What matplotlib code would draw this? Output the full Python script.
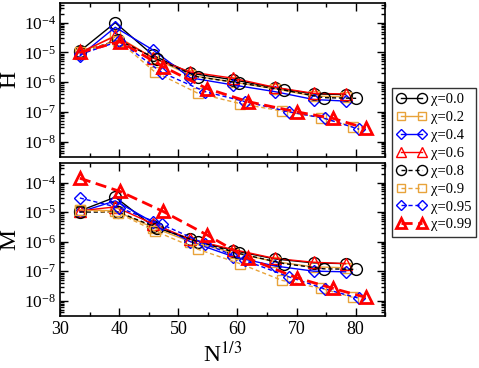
import matplotlib
matplotlib.use("Agg")
import matplotlib.pyplot as plt
from matplotlib.ticker import LogLocator, NullFormatter, LogFormatterMathtext

plt.rcParams['font.family'] = ['Liberation Serif', 'DejaVu Serif']
plt.rcParams['mathtext.fontset'] = 'stix'
plt.rcParams['axes.unicode_minus'] = False

# N^(1/3) positions for each chi
x_low = [33.3, 39.3, 45.7, 52.0, 59.3, 66.3, 72.9, 78.3]   # chi = 0.0 .. 0.6
x_08 = [33.3, 39.8, 46.3, 53.3, 60.2, 67.9, 74.6, 80.1]
x_09 = [33.3, 39.8, 46.0, 53.3, 60.4, 67.5, 74.2, 79.5]
x_095 = [33.3, 40.0, 47.2, 54.5, 61.3, 68.8, 74.8, 80.6]
x_099 = [33.3, 40.1, 47.4, 54.8, 61.8, 70.0, 76.2, 81.7]

chi_labels = ["0.0", "0.2", "0.4", "0.6", "0.8", "0.9", "0.95", "0.99"]

# H (top panel)
H_00 = [1.1e-5, 1.0e-4, 8.0e-6, 2.0e-6, 1.2e-6, 6.5e-7, 4.0e-7, 3.8e-7]
H_02 = [9.0e-6, 3.8e-5, 6.5e-6, 1.7e-6, 1.0e-6, 6.0e-7, 3.4e-7, 3.2e-7]
H_04 = [7.5e-6, 7.0e-5, 1.2e-5, 1.4e-6, 8.0e-7, 4.8e-7, 2.6e-7, 2.3e-7]
H_06 = [1.0e-5, 3.5e-5, 6.5e-6, 2.2e-6, 1.35e-6, 6.7e-7, 4.2e-7, 4.0e-7]
H_08 = [1.0e-5, 2.6e-5, 6.0e-6, 1.5e-6, 9.5e-7, 5.4e-7, 3.0e-7, 2.85e-7]
H_09 = [1.0e-5, 2.5e-5, 2.2e-6, 4.2e-7, 1.9e-7, 1.07e-7, 6.3e-8, 3.2e-8]
H_095 = [8.5e-6, 2.4e-5, 2.1e-6, 4.8e-7, 2.2e-7, 1.0e-7, 6.0e-8, 2.6e-8]
H_099 = [1.0e-5, 2.3e-5, 3.3e-6, 6.1e-7, 2.2e-7, 1.0e-7, 6.0e-8, 2.8e-8]

# M (bottom panel)
M_00 = [1.1e-5, 3.2e-5, 3.3e-6, 1.2e-6, 5.0e-7, 2.6e-7, 1.9e-7, 1.8e-7]
M_02 = [1.2e-5, 1.1e-5, 3.0e-6, 1.0e-6, 4.2e-7, 2.1e-7, 1.4e-7, 1.3e-7]
M_04 = [1.0e-5, 2.4e-5, 4.5e-6, 1.0e-6, 3.1e-7, 1.5e-7, 1.0e-7, 9.5e-8]
M_06 = [1.1e-5, 1.5e-5, 4.0e-6, 1.2e-6, 5.4e-7, 2.7e-7, 2.0e-7, 1.8e-7]
M_08 = [1.0e-5, 1.0e-5, 3.0e-6, 1.0e-6, 4.0e-7, 1.8e-7, 1.2e-7, 1.15e-7]
M_09 = [1.2e-5, 9.3e-6, 2.3e-6, 5.5e-7, 1.8e-7, 4.9e-8, 2.6e-8, 1.3e-8]
M_095 = [3.0e-5, 1.4e-5, 3.8e-6, 8.5e-7, 2.3e-7, 6.3e-8, 2.5e-8, 1.2e-8]
M_099 = [1.4e-4, 5.0e-5, 1.05e-5, 1.7e-6, 2.7e-7, 6.0e-8, 2.6e-8, 1.3e-8]

xs = [x_low, x_low, x_low, x_low, x_08, x_09, x_095, x_099]
Hs = [H_00, H_02, H_04, H_06, H_08, H_09, H_095, H_099]
Ms = [M_00, M_02, M_04, M_06, M_08, M_09, M_095, M_099]

orange = '#E8A33A'
dash = (0, (3, 2))
styles = [
    dict(color='k', marker='o', ls='-', lw=1.0, ms=8.5, mew=1.0),
    dict(color=orange, marker='s', ls='-', lw=1.0, ms=7.5, mew=1.0),
    dict(color='b', marker='D', ls='-', lw=1.0, ms=6.5, mew=1.0),
    dict(color='r', marker='^', ls='-', lw=1.0, ms=9, mew=1.0),
    dict(color='k', marker='o', ls=dash, lw=1.0, ms=8.5, mew=1.0),
    dict(color=orange, marker='s', ls=dash, lw=1.0, ms=7.5, mew=1.0),
    dict(color='b', marker='D', ls=dash, lw=1.0, ms=6.5, mew=1.0),
    dict(color='r', marker='^', ls=(0, (4, 2)), lw=2.0, ms=9, mew=2.0),
]

fig = plt.figure(figsize=(4.79, 3.68), dpi=100)
ax1 = fig.add_axes([0.126, 0.5742, 0.678, 0.4185])
ax2 = fig.add_axes([0.126, 0.1421, 0.678, 0.4158])

for ax, ys in ((ax1, Hs), (ax2, Ms)):
    for x, y, st, lab in zip(xs, ys, styles, chi_labels):
        ax.plot(x, y, color=st['color'], marker=st['marker'], ls=st['ls'],
                lw=st['lw'], ms=st['ms'], mew=st['mew'], mfc='none',
                label="χ=" + lab)
    ax.set_yscale('log')
    ax.set_xlim(30, 85)
    ax.set_ylim(3.1e-9, 4.7e-4)
    ax.set_xticks([30, 40, 50, 60, 70, 80])
    ax.set_xticks([35, 45, 55, 65, 75, 85], minor=True)
    ax.yaxis.set_major_locator(LogLocator(base=10, numticks=20))
    ax.yaxis.set_minor_locator(LogLocator(base=10, subs=range(2, 10), numticks=20))
    ax.yaxis.set_major_formatter(LogFormatterMathtext())
    ax.yaxis.set_minor_formatter(NullFormatter())
    ax.tick_params(which='both', direction='in', top=True, right=True,
                   labelsize=13, width=1.0)
    ax.tick_params(axis='y', labelsize=12.5, pad=3)
    ax.tick_params(which='major', length=6)
    ax.tick_params(which='minor', length=3)
    for s in ax.spines.values():
        s.set_linewidth(1.2)

ax1.set_xticklabels([])
ax1.set_ylabel("H", fontsize=17)
ax2.set_ylabel("M", fontsize=17)
ax1.yaxis.set_label_coords(-0.122, 0.5)
ax2.yaxis.set_label_coords(-0.122, 0.5)
ax2.set_xlabel("N$^{1/3}$", fontsize=17, labelpad=3)

leg = ax1.legend(loc='upper left', bbox_to_anchor=(1.021, 0.446), numpoints=2,
                 handlelength=2.0, fontsize=10.5, frameon=True, fancybox=False,
                 edgecolor='k', borderpad=0.35, labelspacing=0.32,
                 handletextpad=0.3, borderaxespad=0, markerscale=0.85)
leg.get_frame().set_linewidth(1.0)

fig.savefig("out.png", dpi=100)
